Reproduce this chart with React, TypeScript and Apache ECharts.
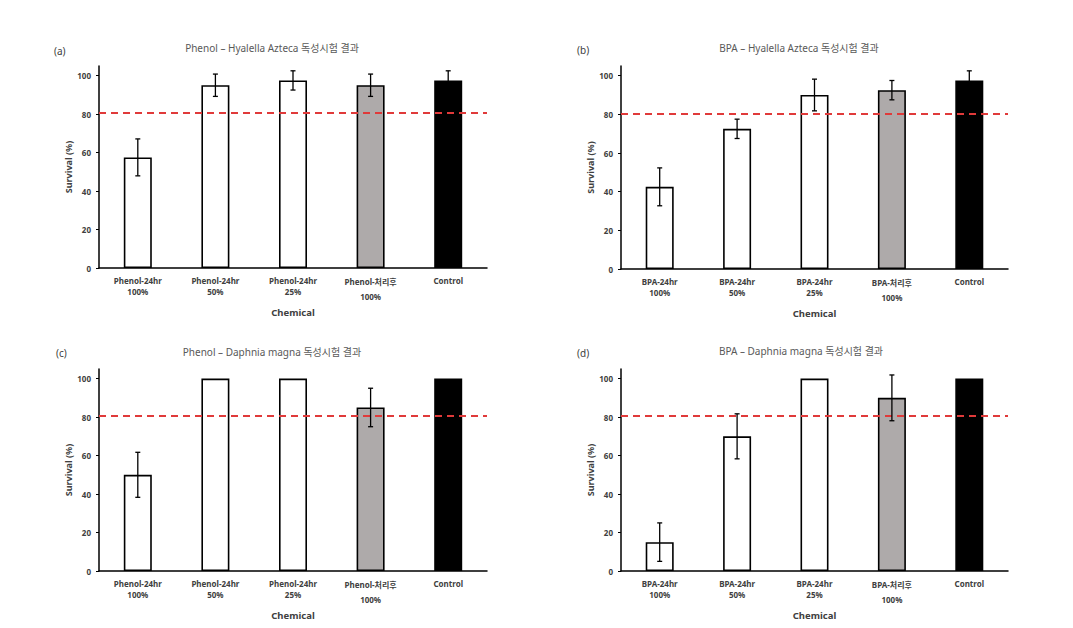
import React, { useEffect, useRef } from "react";
import * as echarts from "echarts";

const phenolCategories = ["Phenol-24hr\n100%", "Phenol-24hr\n50%", "Phenol-24hr\n25%", "Phenol-처리후\n100%", "Control"];
const bpaCategories = ["BPA-24hr\n100%", "BPA-24hr\n50%", "BPA-24hr\n25%", "BPA-처리후\n100%", "Control"];

const phenolHyalellaValues = [57.5, 95, 97.5, 95, 97.5];
const phenolHyalellaErrors = [9.6, 5.8, 5, 5.8, 5];
const bpaHyalellaValues = [42.5, 72.5, 90, 92.5, 97.5];
const bpaHyalellaErrors = [9.8, 5, 8.2, 5, 5];
const phenolDaphniaValues = [50, 100, 100, 85, 100];
const phenolDaphniaErrors = [11.7, 0, 0, 10, 0];
const bpaDaphniaValues = [15, 70, 100, 90, 100];
const bpaDaphniaErrors = [10, 11.7, 0, 11.9, 0];

const panelTitles = [
  "Phenol – Hyalella Azteca 독성시험 결과",
  "BPA – Hyalella Azteca 독성시험 결과",
  "Phenol – Daphnia magna 독성시험 결과",
  "BPA – Daphnia magna 독성시험 결과",
];
const panelLetters = ["(a)", "(b)", "(c)", "(d)"];
const thresholdValue = 80.5;
const yTickValues = [0, 20, 40, 60, 80, 100];
const barColors = ["#ffffff", "#ffffff", "#ffffff", "#aeaaaa", "#000000"];

const FONT = "'Noto Sans', 'Noto Sans CJK KR', sans-serif";

export default function App() {
  const ref = useRef<HTMLDivElement>(null);

  useEffect(() => {
    document.body.style.margin = "0";
    if (!ref.current) return;
    const chart = echarts.init(ref.current, null, { renderer: "svg" });

    const panels = [
      { cats: phenolCategories, vals: phenolHyalellaValues, errs: phenolHyalellaErrors },
      { cats: bpaCategories, vals: bpaHyalellaValues, errs: bpaHyalellaErrors },
      { cats: phenolCategories, vals: phenolDaphniaValues, errs: phenolDaphniaErrors },
      { cats: bpaCategories, vals: bpaDaphniaValues, errs: bpaDaphniaErrors },
    ];

    const grids = [
      { left: 99, top: 66, width: 388, height: 202 },
      { left: 621, top: 66, width: 387, height: 203 },
      { left: 99, top: 369, width: 388, height: 202 },
      { left: 621, top: 369, width: 387, height: 202 },
    ];

    const titlePos = [
      { tx: 272, ty: 48, lx: 54, ly: 51 },
      { tx: 799, ty: 47.5, lx: 577, ly: 50 },
      { tx: 272, ty: 351.5, lx: 56, ly: 352.5 },
      { tx: 801, ty: 351, lx: 577, ly: 353 },
    ];

    const labelFormatter = (v: string) => {
      const parts = v.split("\n");
      const korean = /[\uac00-\ud7a3]/.test(v);
      return parts.map((p) => (korean ? `{k|${p}}` : `{n|${p}}`)).join("\n");
    };

    const xAxes = panels.map((p, i) => ({
      type: "category",
      gridIndex: i,
      data: p.cats,
      name: "Chemical",
      nameLocation: "middle",
      nameGap: 40,
      nameTextStyle: { fontFamily: FONT, fontSize: 9.5, fontWeight: "bold", color: "#404040" },
      axisLine: { lineStyle: { color: "#000", width: 1.5 } },
      axisTick: { alignWithLabel: true, length: 3, lineStyle: { color: "#000", width: 1 } },
      axisLabel: {
        interval: 0,
        margin: 6.5,
        formatter: labelFormatter,
        rich: {
          n: { fontFamily: FONT, fontSize: 8, fontWeight: "bold", color: "#404040", lineHeight: 11 },
          k: { fontFamily: FONT, fontSize: 8, fontWeight: "bold", color: "#404040", lineHeight: 14.5 },
        },
      },
      splitLine: { show: false },
    }));

    const yAxes = panels.map((_, i) => ({
      type: "value",
      gridIndex: i,
      min: 0,
      max: 105,
      interval: 20,
      name: "Survival (%)",
      nameLocation: "middle",
      nameGap: 26,
      nameTextStyle: { fontFamily: FONT, fontSize: 9, fontWeight: "bold", color: "#404040" },
      axisLine: { show: true, lineStyle: { color: "#000", width: 1.5 } },
      axisTick: { show: true, length: 3, customValues: yTickValues, lineStyle: { color: "#000", width: 1 } },
      axisLabel: {
        customValues: yTickValues,
        margin: 8,
        fontFamily: FONT,
        fontSize: 8,
        fontWeight: "bold",
        color: "#404040",
      },
      splitLine: { show: false },
    }));

    const series: any[] = [];
    panels.forEach((p, i) => {
      series.push({
        type: "bar",
        xAxisIndex: i,
        yAxisIndex: i,
        barWidth: 28,
        data: p.vals.map((v, j) => ({
          value: v,
          itemStyle: { color: barColors[j], borderColor: "#000", borderWidth: 1.6 },
        })),
        markLine: {
          silent: true,
          symbol: "none",
          label: { show: false },
          lineStyle: { type: [7, 5], color: "#e03a3a", width: 2 },
          data: [{ yAxis: thresholdValue }],
          z: 5,
        },
      });
      series.push({
        type: "custom",
        xAxisIndex: i,
        yAxisIndex: i,
        z: 10,
        data: p.vals.map((v, j) => [j, v, p.errs[j]]),
        renderItem: (_params: any, api: any) => {
          const x = api.value(0);
          const v = api.value(1);
          const e = api.value(2);
          if (!e) return { type: "group", children: [] };
          const top = api.coord([x, v + e]);
          const bot = api.coord([x, v - e]);
          const hw = 2.5;
          const style = { stroke: "#000", lineWidth: 1.3 };
          return {
            type: "group",
            children: [
              { type: "line", shape: { x1: top[0], y1: top[1], x2: bot[0], y2: bot[1] }, style },
              { type: "line", shape: { x1: top[0] - hw, y1: top[1], x2: top[0] + hw, y2: top[1] }, style },
              { type: "line", shape: { x1: bot[0] - hw, y1: bot[1], x2: bot[0] + hw, y2: bot[1] }, style },
            ],
          };
        },
      });
    });

    const graphics: any[] = [];
    titlePos.forEach((t, i) => {
      graphics.push({
        type: "text",
        x: t.tx,
        y: t.ty,
        style: {
          text: panelTitles[i],
          fontFamily: FONT,
          fontSize: 10,
          fill: "#595959",
          textAlign: "center",
          textVerticalAlign: "middle",
        },
      });
      graphics.push({
        type: "text",
        x: t.lx,
        y: t.ly,
        style: {
          text: panelLetters[i],
          fontFamily: FONT,
          fontSize: 10,
          fill: "#404040",
          textAlign: "left",
          textVerticalAlign: "middle",
        },
      });
    });

    chart.setOption({
      animation: false,
      backgroundColor: "#ffffff",
      grid: grids,
      xAxis: xAxes,
      yAxis: yAxes,
      series,
      graphic: graphics,
    });

    return () => chart.dispose();
  }, []);

  return <div ref={ref} style={{ width: 1073, height: 628 }} />;
}
